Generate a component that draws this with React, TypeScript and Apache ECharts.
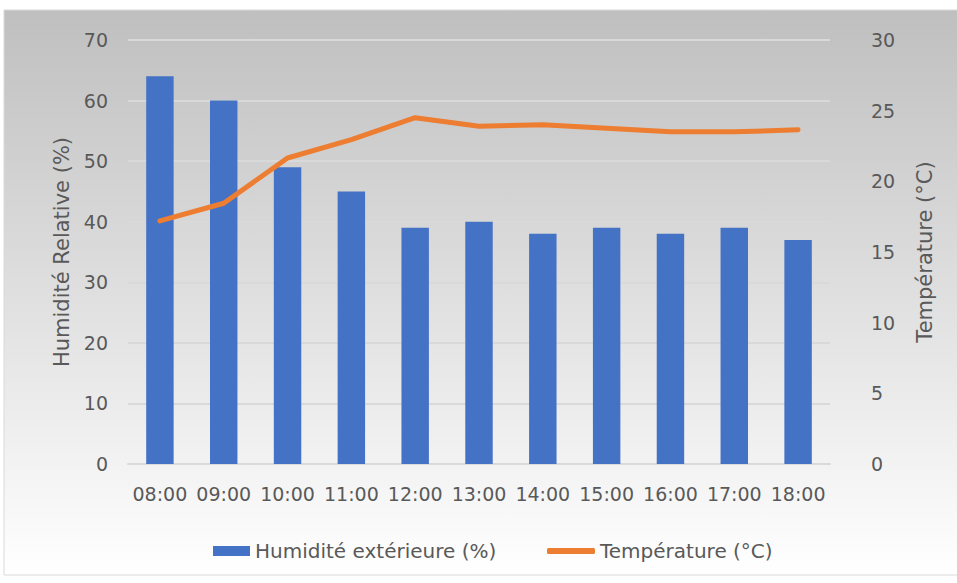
import React, { useEffect, useRef } from "react";
import * as echarts from "echarts";

const hours = ["08:00", "09:00", "10:00", "11:00", "12:00", "13:00", "14:00", "15:00", "16:00", "17:00", "18:00"];
const humidity = [64, 60, 49, 45, 39, 40, 38, 39, 38, 39, 37];
const temperature = [17.2, 18.45, 21.65, 22.95, 24.5, 23.9, 24.0, 23.75, 23.5, 23.5, 23.65];
const humName = "Humidité extérieure (%)";
const tempName = "Température (°C)";

const FONT = "'DejaVu Sans', sans-serif";
const GRAY = "#595959";

export default function App() {
  const ref = useRef<HTMLDivElement>(null);
  useEffect(() => {
    document.body.style.margin = "0";
    const chart = echarts.init(ref.current!, null, { renderer: "svg" });
    chart.setOption({
      animation: false,
      textStyle: { fontFamily: FONT },
      graphic: [
        {
          type: "rect",
          z: -10,
          silent: true,
          shape: { x: 4, y: 10, width: 960, height: 565 },
          style: {
            fill: new echarts.graphic.LinearGradient(0, 0, 0, 1, [
              { offset: 0, color: "#bfbfbf" },
              { offset: 1, color: "#ffffff" },
            ]),
            stroke: "#d9d9d9",
            lineWidth: 1,
          },
        },
      ],
      grid: { left: 128, right: 127, top: 40, bottom: 119 },
      legend: [
        {
          data: [{ name: humName, icon: "rect" }],
          left: 208,
          top: 536,
          itemWidth: 37,
          itemHeight: 10,
          itemGap: 7,
          textStyle: { color: GRAY, fontSize: 20, fontFamily: FONT },
        },
        {
          data: [{ name: tempName, icon: "roundRect" }],
          left: 542,
          top: 536,
          itemWidth: 48,
          itemHeight: 6,
          textStyle: { color: GRAY, fontSize: 20, fontFamily: FONT },
        },
      ],
      xAxis: {
        type: "category",
        data: hours,
        axisTick: { show: false },
        axisLine: { lineStyle: { color: "#d9d9d9", width: 2 } },
        axisLabel: { color: GRAY, fontSize: 19, margin: 20, fontFamily: FONT, interval: 0 },
      },
      yAxis: [
        {
          type: "value",
          min: 0,
          max: 70,
          interval: 10,
          name: "Humidité Relative (%)",
          nameLocation: "middle",
          nameGap: 56,
          nameTextStyle: { color: GRAY, fontSize: 21, fontFamily: FONT },
          axisLine: { show: false },
          axisTick: { show: false },
          axisLabel: { color: GRAY, fontSize: 19, margin: 20, fontFamily: FONT },
          splitLine: { lineStyle: { color: "#d9d9d9", width: 2 } },
        },
        {
          type: "value",
          min: 0,
          max: 30,
          interval: 5,
          name: "Température (°C)",
          nameLocation: "middle",
          nameGap: 84,
          nameRotate: 90,
          nameTextStyle: { color: GRAY, fontSize: 21, fontFamily: FONT },
          axisLine: { show: false },
          axisTick: { show: false },
          axisLabel: { color: GRAY, fontSize: 19, margin: 41, fontFamily: FONT, align: "left" },
          splitLine: { show: false },
        },
      ],
      series: [
        {
          name: humName,
          type: "bar",
          data: humidity,
          barWidth: "43%",
          itemStyle: { color: "#4472c4" },
          yAxisIndex: 0,
        },
        {
          name: tempName,
          type: "line",
          data: temperature,
          yAxisIndex: 1,
          symbol: "none",
          lineStyle: { color: "#ed7d31", width: 5, cap: "round", join: "round" },
          itemStyle: { color: "#ed7d31" },
        },
      ],
    });
    return () => chart.dispose();
  }, []);
  return <div ref={ref} style={{ width: 957, height: 583 }} />;
}
